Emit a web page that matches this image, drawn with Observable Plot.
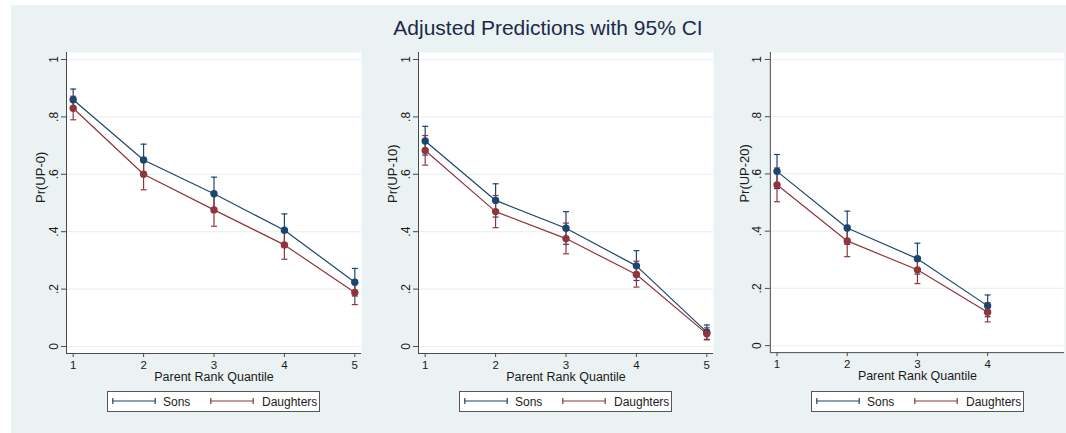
<!DOCTYPE html>
<html>
<head>
<meta charset="utf-8">
<script src="https://cdn.jsdelivr.net/npm/d3@7"></script>
<script src="https://cdn.jsdelivr.net/npm/@observablehq/plot@0.6"></script>
<style>
  html, body { margin: 0; padding: 0; background: #ffffff; }
  #chart { position: relative; width: 1066px; height: 433px; overflow: hidden;
           font-family: "Liberation Sans", Arial, sans-serif; }
  #bg { position: absolute; left: 11px; top: 5px; right: 0; bottom: 0; background: #eaf2f3; }
  #title { position: absolute; left: 548px; top: 17px; transform: translateX(-50%);
           font-size: 21px; line-height: 21px; color: #1c2a48; white-space: nowrap; }
  .panel { position: absolute; top: 52px; }
  .legend { position: absolute; top: 391px; width: 213px; height: 21px; box-sizing: border-box;
            border: 1px solid #555; background: #ffffff; font-size: 12px; line-height: 12px; color: #222; }
  .legend svg, .legend span { position: absolute; }
</style>
</head>
<body>
<div id="chart">
  <div id="bg"></div>
  <div id="title">Adjusted Predictions with 95% CI</div>
</div>
<script>
// Parent rank quantiles and y-axis ticks
const quantiles = [1, 2, 3, 4, 5];
const yTicks = [0, 0.2, 0.4, 0.6, 0.8, 1];
const yTickLabels = ["0", ".2", ".4", ".6", ".8", "1"];
const xLabel = "Parent Rank Quantile";
const seriesNames = ["Sons", "Daughters"];

// Pr(UP-0): predicted probabilities with 95% CI bounds
const up0Sons        = [0.860, 0.650, 0.532, 0.405, 0.224];
const up0SonsLo      = [0.823, 0.595, 0.474, 0.348, 0.176];
const up0SonsHi      = [0.897, 0.705, 0.590, 0.462, 0.272];
const up0Daughters   = [0.830, 0.600, 0.476, 0.354, 0.188];
const up0DaughtersLo = [0.790, 0.546, 0.419, 0.304, 0.146];
const up0DaughtersHi = [0.872, 0.655, 0.533, 0.404, 0.230];

// Pr(UP-10)
const up10Sons        = [0.716, 0.509, 0.412, 0.281, 0.050];
const up10SonsLo      = [0.667, 0.451, 0.356, 0.230, 0.025];
const up10SonsHi      = [0.767, 0.567, 0.470, 0.334, 0.075];
const up10Daughters   = [0.683, 0.470, 0.376, 0.251, 0.044];
const up10DaughtersLo = [0.632, 0.414, 0.323, 0.207, 0.023];
const up10DaughtersHi = [0.735, 0.526, 0.430, 0.297, 0.065];

// Pr(UP-20): only quantiles 1–4
const up20Sons        = [0.609, 0.411, 0.304, 0.139];
const up20SonsLo      = [0.549, 0.354, 0.250, 0.101];
const up20SonsHi      = [0.668, 0.470, 0.358, 0.177];
const up20Daughters   = [0.562, 0.366, 0.265, 0.117];
const up20DaughtersLo = [0.503, 0.311, 0.217, 0.083];
const up20DaughtersHi = [0.621, 0.420, 0.310, 0.150];

const colors = { Sons: "#1a476f", Daughters: "#90353b" };
const axisColor = "#4a4a4a";
const gridColor = "#eaf2f3";
const fontFamily = "Liberation Sans, Arial, sans-serif";

const panels = [
  { label: "Pr(UP-0)", left: 11, n: 5,
    sons: [up0Sons, up0SonsLo, up0SonsHi], daughters: [up0Daughters, up0DaughtersLo, up0DaughtersHi] },
  { label: "Pr(UP-10)", left: 363, n: 5,
    sons: [up10Sons, up10SonsLo, up10SonsHi], daughters: [up10Daughters, up10DaughtersLo, up10DaughtersHi] },
  { label: "Pr(UP-20)", left: 715, n: 4,
    sons: [up20Sons, up20SonsLo, up20SonsHi], daughters: [up20Daughters, up20DaughtersLo, up20DaughtersHi] }
];

// Horizontal cap for the CI whiskers, sized in pixels via the dot radius
const capSymbol = {
  draw(context, size) {
    const r = Math.sqrt(size / Math.PI);
    context.moveTo(-r, 0);
    context.lineTo(r, 0);
  }
};

function rows(q, [v, lo, hi]) {
  return q.map((x, i) => ({ q: x, v: v[i], lo: lo[i], hi: hi[i] }));
}

function seriesMarks(data, color) {
  return [
    Plot.ruleX(data, { x: "q", y1: "lo", y2: "hi", stroke: color, strokeWidth: 1.2 }),
    Plot.dot(data, { x: "q", y: "lo", symbol: capSymbol, r: 3, fill: "none", stroke: color, strokeWidth: 1.2 }),
    Plot.dot(data, { x: "q", y: "hi", symbol: capSymbol, r: 3, fill: "none", stroke: color, strokeWidth: 1.2 })
  ];
}

const xDomain = [0.905, 5.095];
const yDomain = [-0.0244, 1.0244];
const chart = document.getElementById("chart");

for (const p of panels) {
  const q = quantiles.slice(0, p.n);
  const sons = rows(q, p.sons);
  const daughters = rows(q, p.daughters);

  const plot = Plot.plot({
    width: 352,
    height: 331,
    marginLeft: 55,
    marginRight: 2,
    marginTop: 0,
    marginBottom: 30,
    style: { fontFamily, fontSize: "12px", color: "#1a1a1a", background: "transparent", overflow: "visible" },
    x: { type: "linear", domain: xDomain },
    y: { type: "linear", domain: yDomain },
    marks: [
      Plot.frame({ fill: "white", stroke: null }),
      Plot.gridY(yTicks, { stroke: gridColor, strokeOpacity: 1, strokeWidth: 1.2 }),
      Plot.ruleX([xDomain[0]], { stroke: axisColor }),
      Plot.ruleY([yDomain[0]], { stroke: axisColor }),
      Plot.axisY({ ticks: yTicks, tickFormat: d => yTickLabels[yTicks.indexOf(d)], tickRotate: -90,
                   tickSize: 5, stroke: axisColor, label: null, fontSize: 12 }),
      Plot.axisX({ ticks: q, tickFormat: d => String(d), tickSize: 4, tickPadding: 3,
                   stroke: axisColor, label: null, fontSize: 11.5 }),
      Plot.text([p.label], { text: d => d, frameAnchor: "left", dx: -26, rotate: -90, fontSize: 13 }),
      Plot.text([xLabel], { text: d => d, frameAnchor: "bottom", dy: 27.5, fontSize: 12.5 }),
      ...seriesMarks(sons, colors.Sons),
      ...seriesMarks(daughters, colors.Daughters),
      Plot.line(sons, { x: "q", y: "v", stroke: colors.Sons, strokeWidth: 1.2 }),
      Plot.dot(sons, { x: "q", y: "v", r: 3.7, fill: colors.Sons, stroke: null }),
      Plot.line(daughters, { x: "q", y: "v", stroke: colors.Daughters, strokeWidth: 1.2 }),
      Plot.dot(daughters, { x: "q", y: "v", r: 3.7, fill: colors.Daughters, stroke: null })
    ]
  });

  const holder = document.createElement("div");
  holder.className = "panel";
  holder.style.left = p.left + "px";
  holder.appendChild(plot);
  chart.appendChild(holder);

  // Legend box under each panel
  const legend = d3.select(chart).append("div")
    .attr("class", "legend")
    .style("left", (p.left + 96) + "px");
  const items = [
    { name: seriesNames[0], lineX: 4, textX: 55 },
    { name: seriesNames[1], lineX: 102, textX: 154 }
  ];
  for (const it of items) {
    const svg = legend.append("svg")
      .attr("width", 44).attr("height", 10)
      .style("left", it.lineX + "px").style("top", "4px");
    const c = colors[it.name];
    svg.append("line").attr("x1", 0.5).attr("x2", 43.5).attr("y1", 5).attr("y2", 5)
      .attr("stroke", c).attr("stroke-width", 1.2);
    svg.append("line").attr("x1", 0.8).attr("x2", 0.8).attr("y1", 2).attr("y2", 8)
      .attr("stroke", c).attr("stroke-width", 1.2);
    svg.append("line").attr("x1", 43.2).attr("x2", 43.2).attr("y1", 2).attr("y2", 8)
      .attr("stroke", c).attr("stroke-width", 1.2);
    legend.append("span").text(it.name)
      .style("left", it.textX + "px").style("top", "3.5px");
  }
}
</script>
</body>
</html>
